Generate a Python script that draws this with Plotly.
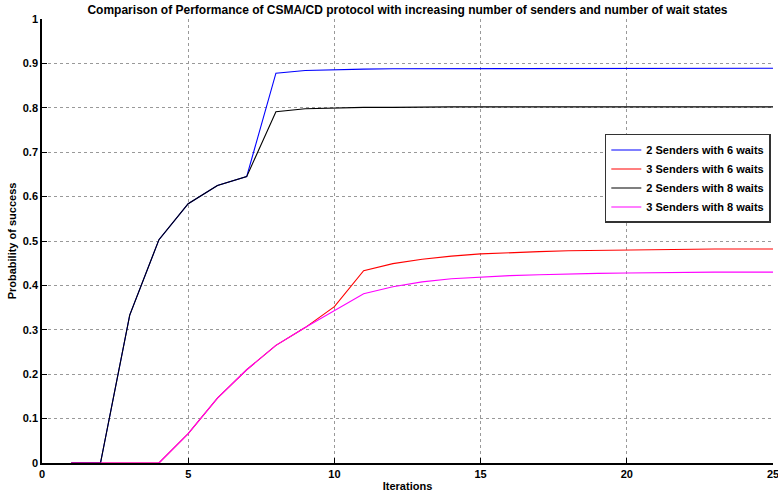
import plotly.graph_objects as go

iterations = list(range(1, 26))
two_send_6 = [0, 0, 0.333, 0.503, 0.584, 0.625, 0.645, 0.878, 0.884, 0.886, 0.887, 0.888, 0.888, 0.889,
              0.889, 0.889, 0.889, 0.889, 0.889, 0.889, 0.889, 0.889, 0.889, 0.889, 0.889]
three_send_6 = [0, 0, 0, 0, 0.066, 0.146, 0.21, 0.265, 0.305, 0.352, 0.433, 0.449, 0.459, 0.466,
                0.471, 0.474, 0.476, 0.478, 0.479, 0.480, 0.481, 0.481, 0.482, 0.482, 0.482]
two_send_8 = [0, 0, 0.333, 0.503, 0.584, 0.625, 0.645, 0.791, 0.798, 0.800, 0.801, 0.801, 0.802, 0.802,
              0.802, 0.802, 0.802, 0.802, 0.802, 0.802, 0.802, 0.802, 0.802, 0.802, 0.802]
three_send_8 = [0, 0, 0, 0, 0.066, 0.146, 0.21, 0.265, 0.305, 0.343, 0.381, 0.397, 0.408, 0.415,
                0.419, 0.422, 0.424, 0.426, 0.427, 0.428, 0.429, 0.429, 0.430, 0.430, 0.430]

series = [
    ("2 Senders with 6 waits", two_send_6, "#0000ff"),
    ("3 Senders with 6 waits", three_send_6, "#ff0000"),
    ("2 Senders with 8 waits", two_send_8, "#000000"),
    ("3 Senders with 8 waits", three_send_8, "#ff00ff"),
]

x_ticks = [0, 5, 10, 15, 20, 25]
y_ticks = [0, 0.1, 0.2, 0.3, 0.4, 0.5, 0.6, 0.7, 0.8, 0.9, 1]
y_tick_text = ["0", "0.1", "0.2", "0.3", "0.4", "0.5", "0.6", "0.7", "0.8", "0.9", "1"]

FONT = "Liberation Sans"

fig = go.Figure()
for name, vals, col in series:
    fig.add_trace(go.Scatter(x=iterations, y=vals, mode="lines", name=name,
                             line=dict(color=col, width=1.1)))

axis_common = dict(
    showgrid=True, gridcolor="#999999", griddash="dot", gridwidth=1,
    showline=True, linecolor="black", linewidth=1.5,
    ticks="inside", ticklen=5, tickcolor="black", tickwidth=1,
    zeroline=False, mirror=False, ticklabeloverflow="allow",
    tickfont=dict(family=FONT, size=11, color="black", weight="bold"),
)

fig.update_layout(
    width=778, height=493,
    margin=dict(l=42, r=5, t=19, b=30),
    paper_bgcolor="white", plot_bgcolor="white",
    title=dict(text="<b>Comparison of Performance of CSMA/CD protocol with increasing number of senders and number of wait states</b>",
               font=dict(family=FONT, size=12, color="black"),
               x=0.5, xref="paper", xanchor="center",
               y=1 - 10 / 493, yref="container", yanchor="middle"),
    xaxis=dict(range=[0, 25], tickvals=x_ticks,
               title=dict(text="<b>Iterations</b>", font=dict(family=FONT, size=11, color="black"), standoff=3),
               automargin=False, **axis_common),
    yaxis=dict(range=[0, 1], tickvals=y_ticks, ticktext=y_tick_text,
               title=dict(text="<b>Probability of success</b>", font=dict(family=FONT, size=11, color="black"), standoff=4),
               automargin=False, **axis_common),
    legend=dict(x=0.997, y=0.741, xanchor="right", yanchor="top",
                bgcolor="white", bordercolor="#333333", borderwidth=1.5,
                font=dict(family=FONT, size=11, color="black", weight="bold"),
                tracegroupgap=0, itemwidth=30),
    showlegend=True,
)

fig.write_html("out.html", config={"displayModeBar": False},
               post_script="document.body.style.margin='0px';document.body.style.padding='0px';")
